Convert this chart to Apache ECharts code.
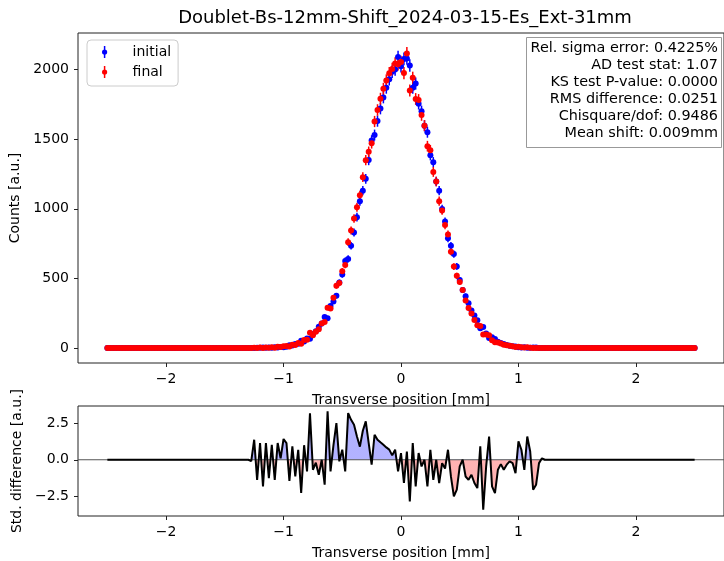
<!DOCTYPE html>
<html><head><meta charset="utf-8">
<script src="https://cdn.jsdelivr.net/npm/echarts@6/dist/echarts.min.js"></script>
<style>html,body{margin:0;padding:0;background:#fff}#c{width:724px;height:561px}</style>
</head><body><div id="c"></div>
<script>
// ---------- DATA ----------
const titleText = 'Doublet-Bs-12mm-Shift_2024-03-15-Es_Ext-31mm';
const seriesNames = ['initial', 'final'];
const binStart = -2.5;   // first bin position [mm]
const binWidth = 0.025;  // bin width [mm]

const initialCounts = [
  0,0,0,0,0,0,0,0,0,0,0,0,
  0,0,0,0,0,0,0,0,0,0,0,0,
  0,0,0,0,0,0,0,0,0,0,0,0,
  0,0,0,0,0,0,0,0,0,0,0,0,
  0,0,0,2,1,3,1,4,2,6,
  4,7,6,9,19,17,29,30,51,47,
  68,67,101,120,152,176,222,214,302,334,
  375,470,528,625,640,735,830,940,1055,1130,
  1215,1350,1490,1530,1630,1720,1800,1870,1930,1985,
  2000,2090,2025,2077,2080,2030,1870,1900,1755,1700,
  1597,1550,1385,1335,1196,1130,998,908,788,735,
  675,586,488,416,372,322,270,234,200,142,
  151,104,72,77,65,45,35,29,21,16,
  13,11,5,4,5,1,1,4,3,0,
  0,
  0,0,0,0,0,0,0,0,0,0,0,0,0,
  0,0,0,0,0,0,0,0,0,0,0,0,0,
  0,0,0,0,0,0,0,0,0,0,0,0,0,
  0,0,0,0,0,0,0,0,0,0,0,0,0
];

const finalCounts = [
  0,0,0,0,0,0,0,0,0,0,0,0,
  0,0,0,0,0,0,0,0,0,0,0,0,
  0,0,0,0,0,0,0,0,0,0,0,0,
  0,0,0,0,0,0,0,0,0,0,0,0,
  0,0,2,0,3,0,3,1,5,2,
  8,7,12,15,11,23,21,35,31,57,
  59,110,91,117,134,176,187,289,283,360,
  447,466,551,597,760,844,931,1011,1097,1227,
  1349,1410,1471,1627,1710,1791,1862,1922,1974,2004,
  2044,2038,2054,1975,2116,1850,1941,1789,1782,1673,
  1597,1450,1421,1265,1196,1055,988,883,816,692,
  585,518,474,416,341,288,247,201,163,158,
  97,97,92,56,41,39,33,24,19,16,
  12,7,9,6,3,5,2,0,0,0,
  0,
  0,0,0,0,0,0,0,0,0,0,0,0,0,
  0,0,0,0,0,0,0,0,0,0,0,0,0,
  0,0,0,0,0,0,0,0,0,0,0,0,0,
  0,0,0,0,0,0,0,0,0,0,0,0,0
];

const stdDiff = [
  0,0,0,0,0,0,0,0,0,0,0,0,
  0,0,0,0,0,0,0,0,0,0,0,0,
  0,0,0,0,0,0,0,0,0,0,0,0,
  0,0,0,0,0,0,0,0,0,0,0,0,
  0,-0.1,1.38,-1.38,1.15,-1.83,1.15,-1.26,1.03,-1.38,
  1.15,0.1,1.43,1.15,-1.45,0.92,-1.15,0.69,-2.29,1.0,
  -0.8,3.2,-0.69,-0.2,-1.03,0,-1.72,3.33,-0.8,1.0,
  2.52,-0.11,0.69,-0.8,3.21,2.75,2.41,1.6,0.9,2.0,
  2.64,1.15,-0.34,1.72,1.38,1.2,1.03,0.85,0.7,0.3,
  0.69,-0.8,0.46,-1.6,0.57,-2.87,1.15,-1.83,0.46,-0.46,
  0,-1.83,0.69,-1.38,0,-1.6,-0.23,-0.6,0.69,-1.15,
  -2.52,-2.06,-0.46,0,-1.15,-1.38,-1.03,-1.6,-1.95,0.92,
  -3.44,-0.46,1.6,-1.83,-2.29,-0.69,-0.3,-0.69,-0.34,-0.11,
  -0.23,-0.92,1.26,0.69,-0.69,1.6,0.57,-2.06,-1.72,-0.23,
  0.1,
  0,0,0,0,0,0,0,0,0,0,0,0,0,
  0,0,0,0,0,0,0,0,0,0,0,0,0,
  0,0,0,0,0,0,0,0,0,0,0,0,0,
  0,0,0,0,0,0,0,0,0,0,0,0,0
];

const xTicks = [-2, -1, 0, 1, 2];
const countTicks = [0, 500, 1000, 1500, 2000];
const diffTicks = [-2.5, 0, 2.5];
const xLabel = 'Transverse position [mm]';
const countLabel = 'Counts [a.u.]';
const diffLabel = 'Std. difference [a.u.]';
const statsLines = [
  'Rel. sigma error: 0.4225%',
  'AD test stat: 1.07',
  'KS test P-value: 0.0000',
  'RMS difference: 0.0251',
  'Chisquare/dof: 0.9486',
  'Mean shift: 0.009mm'
];

// ---------- CHART ----------
const FONT = 'DejaVu Sans';
const xs = initialCounts.map((_, i) => +(binStart + i * binWidth).toFixed(4));
const minus = s => String(s).replace('-', '\u2212');

const pts = arr => arr.map((c, i) => [xs[i], c]);
const errPts = arr => arr.map((c, i) => [xs[i], c, Math.sqrt(c)]);
const zeroLine = [[-2.75, 0], [2.75, 0]];

function errRender(color) {
  return function (params, api) {
    const x = api.value(0), y = api.value(1), e = api.value(2);
    const p1 = api.coord([x, y - e]), p2 = api.coord([x, y + e]);
    return { type: 'line', shape: { x1: p1[0], y1: p1[1], x2: p2[0], y2: p2[1] },
             style: { stroke: color, lineWidth: 1.5 } };
  };
}

function xAxisCfg(gi) {
  return {
    gridIndex: gi, type: 'value', min: -2.75, max: 2.75,
    splitLine: { show: false },
    axisLine: { show: false, onZero: false },
    axisTick: { show: true, customValues: xTicks, length: 4, lineStyle: { color: '#222' } },
    axisLabel: { customValues: xTicks, formatter: v => minus(v), color: '#000',
                 fontSize: 14, fontFamily: FONT, margin: 9 },
    name: xLabel, nameLocation: 'middle', nameGap: 30,
    nameTextStyle: { color: '#000', fontSize: 14, fontFamily: FONT }
  };
}

const chart = echarts.init(document.getElementById('c'), null, { renderer: 'canvas' });
const option = {
  animation: false,
  backgroundColor: '#fff',
  grid: [
    { left: 78, top: 33, width: 651, height: 330, show: true, borderColor: '#222', borderWidth: 1 },
    { left: 78, top: 406, width: 651, height: 110, show: true, borderColor: '#222', borderWidth: 1 }
  ],
  xAxis: [xAxisCfg(0), xAxisCfg(1)],
  yAxis: [
    {
      gridIndex: 0, type: 'value', min: -108, max: 2263,
      splitLine: { show: false },
      axisLine: { show: false, onZero: false },
      axisTick: { show: true, customValues: countTicks, length: 4, lineStyle: { color: '#222' } },
      axisLabel: { customValues: countTicks, formatter: v => String(v), color: '#000',
                   fontSize: 14, fontFamily: FONT, margin: 9 },
      name: countLabel, nameLocation: 'middle', nameGap: 48, nameRotate: 90,
      nameTextStyle: { color: '#000', fontSize: 14, fontFamily: FONT }
    },
    {
      gridIndex: 1, type: 'value', min: -3.87, max: 3.70,
      splitLine: { show: false },
      axisLine: { show: false, onZero: false },
      axisTick: { show: true, customValues: diffTicks, length: 4, lineStyle: { color: '#222' } },
      axisLabel: { customValues: diffTicks, formatter: v => minus(v.toFixed(1)), color: '#000',
                   fontSize: 14, fontFamily: FONT, margin: 9 },
      name: diffLabel, nameLocation: 'middle', nameGap: 48, nameRotate: 90,
      nameTextStyle: { color: '#000', fontSize: 14, fontFamily: FONT }
    }
  ],
  legend: {
    data: seriesNames, orient: 'vertical', left: 87, top: 40,
    icon: 'path://M2.25,0h1.5v12h-1.5z M3,3.4A2.6,2.6 0 1,1 3,8.6A2.6,2.6 0 1,1 3,3.4z',
    itemWidth: 6, itemHeight: 12, itemGap: 6,
    borderColor: '#cccccc', borderWidth: 1, borderRadius: 4,
    backgroundColor: 'rgba(255,255,255,0.8)',
    padding: [5, 7, 7, 15],
    textStyle: { color: '#000', fontSize: 14, fontFamily: FONT, lineHeight: 14, padding: [0, 0, 0, 20] }
  },
  series: [
    { type: 'custom', xAxisIndex: 0, yAxisIndex: 0, renderItem: errRender('#0000ff'),
      data: errPts(initialCounts), encode: { x: 0, y: 1 }, silent: true },
    { name: seriesNames[0], type: 'scatter', xAxisIndex: 0, yAxisIndex: 0, symbol: 'circle',
      symbolSize: 6, itemStyle: { color: '#0000ff', opacity: 1 }, data: pts(initialCounts) },
    { type: 'custom', xAxisIndex: 0, yAxisIndex: 0, renderItem: errRender('#ff0000'),
      data: errPts(finalCounts), encode: { x: 0, y: 1 }, silent: true },
    { name: seriesNames[1], type: 'scatter', xAxisIndex: 0, yAxisIndex: 0, symbol: 'circle',
      symbolSize: 6, itemStyle: { color: '#ff0000', opacity: 1 }, data: pts(finalCounts) },
    { id: 'area', type: 'line', xAxisIndex: 1, yAxisIndex: 1, data: pts(stdDiff), showSymbol: false,
      lineStyle: { width: 0, opacity: 0 }, areaStyle: { color: '#0000ff', opacity: 0.3 }, silent: true },
    { type: 'line', xAxisIndex: 1, yAxisIndex: 1, data: zeroLine, showSymbol: false,
      lineStyle: { width: 1, color: '#555' }, silent: true },
    { type: 'line', xAxisIndex: 1, yAxisIndex: 1, data: pts(stdDiff), showSymbol: false,
      lineStyle: { width: 2, color: '#000' }, itemStyle: { color: '#000' }, silent: true }
  ],
  graphic: [
    { type: 'text', x: 405, y: 18, style: { text: titleText, fill: '#000',
      font: '18px "DejaVu Sans"', align: 'center', verticalAlign: 'middle' } },
    { type: 'group', children: [
      { type: 'rect', shape: { x: 526.5, y: 37.5, width: 195, height: 110 },
        style: { fill: '#fff', stroke: '#999', lineWidth: 1 } }
    ].concat(statsLines.map((t, i) => ({
      type: 'text', x: 718, y: 48 + i * 17, style: { text: t, fill: '#000',
      font: '14.4px "DejaVu Sans"', align: 'right', verticalAlign: 'middle' } }))) }
  ]
};
chart.setOption(option);

// split the residual fill at zero: blue above, red below (global pixel gradient)
const y0 = chart.convertToPixel({ yAxisIndex: 1 }, 0);
chart.setOption({
  series: [{ id: 'area', areaStyle: { opacity: 0.3,
    color: new echarts.graphic.LinearGradient(0, y0 - 100, 0, y0 + 100, [
      { offset: 0, color: '#0000ff' }, { offset: 0.5, color: '#0000ff' },
      { offset: 0.5, color: '#ff0000' }, { offset: 1, color: '#ff0000' }
    ], true) } }]
});
</script></body></html>
